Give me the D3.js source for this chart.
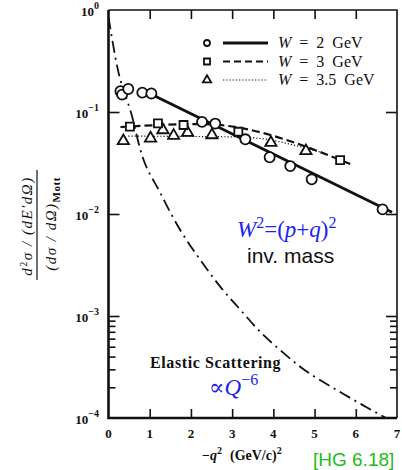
<!DOCTYPE html>
<html>
<head>
<meta charset="utf-8">
<script src="https://cdn.jsdelivr.net/npm/d3@7"></script>
<style>
body { margin: 0; background: #fff; }
svg { display: block; }
.serif { font-family: "Liberation Serif", "DejaVu Serif", serif; }
</style>
</head>
<body>
<svg width="402" height="470"></svg>
<script>
// W = 2 GeV data points [ -q^2, ratio ]
var w2Points = [[0.29, 0.16], [0.33, 0.148], [0.48, 0.168], [0.82, 0.155], [1.04, 0.152],
                [2.27, 0.080], [2.59, 0.077], [3.32, 0.054], [3.91, 0.036], [4.41, 0.0295],
                [4.93, 0.0219], [6.65, 0.0111]];
var w2Line = [[1.0, 0.152], [6.88, 0.0104]];

// W = 3 GeV
var w3Points = [[0.52, 0.0718], [1.2, 0.0775], [1.82, 0.0746], [3.15, 0.064], [5.62, 0.0338]];
var w3Line = [[0.29, 0.0713], [2.23, 0.0762], [5.93, 0.0302]];

// W = 3.5 GeV
var w35Points = [[0.36, 0.052], [1.02, 0.0552], [1.32, 0.0666], [1.58, 0.0586], [1.92, 0.0627],
                 [2.51, 0.0595], [3.94, 0.05], [4.79, 0.0415]];
var w35Line = [[0.48, 0.058], [3.2, 0.0569], [5.13, 0.0405]];

// elastic scattering curve
var elastic = [[0.0, 0.85], [0.21, 0.28], [0.574, 0.09], [0.775, 0.0424], [1.26, 0.016],
               [1.74, 0.00697], [2.23, 0.00354], [2.71, 0.00194], [3.2, 0.00115],
               [3.68, 0.0007], [4.16, 0.000465], [4.65, 0.000318], [5.62, 0.00018], [6.9, 0.000092]];

var xTicks = [0, 1, 2, 3, 4, 5, 6, 7];
var yMajor = [1, 0.1, 0.01, 0.001, 0.0001];
var yMinor = [0.0002, 0.0003, 0.0004, 0.0005, 0.0006, 0.0007, 0.0008, 0.0009];
var yExp = ["0", "\u22121", "\u22122", "\u22123", "\u22124"];

var legendItems = [{"w": "2", "dash": null, "width": 3},
                   {"w": "3", "dash": "7,4", "width": 2.2},
                   {"w": "3.5", "dash": "1.2,2", "width": 1.2}];

var svg = d3.select("svg");

var x = d3.scaleLinear().domain([0, 7]).range([108.5, 397]);
var y = d3.scaleLog().domain([1e-4, 1]).range([418, 10]);

var line = d3.line().x(function (d) { return x(d[0]); }).y(function (d) { return y(d[1]); });

svg.append("clipPath").attr("id", "plot")
.append("rect").attr("x", x(0)).attr("y", y(1)).attr("width", x(7) - x(0)).attr("height", y(1e-4) - y(1));

var plot = svg.append("g").attr("clip-path", "url(#plot)");

// elastic curve
plot.append("path")
.attr("d", line.curve(d3.curveMonotoneX)(elastic))
.attr("fill", "none").attr("stroke", "#111").attr("stroke-width", 1.8)
.attr("stroke-dasharray", "12,5,2,5");
line.curve(d3.curveLinear);

plot.append("path").attr("d", line(w2Line))
.attr("fill", "none").attr("stroke", "#111").attr("stroke-width", 2.8);
plot.append("path").attr("d", line.curve(d3.curveMonotoneX)(w3Line))
.attr("fill", "none").attr("stroke", "#111").attr("stroke-width", 2.2).attr("stroke-dasharray", "8,4");
plot.append("path").attr("d", line(w35Line))
.attr("fill", "none").attr("stroke", "#111").attr("stroke-width", 1.2).attr("stroke-dasharray", "1.2,2");
line.curve(d3.curveLinear);

var sym = {
  circle: d3.symbol().type(d3.symbolCircle).size(80),
  square: d3.symbol().type(d3.symbolSquare).size(64),
  tri: d3.symbol().type(d3.symbolTriangle).size(55)
};

function markers(data, s) {
  plot.selectAll(null).data(data).enter().append("path")
  .attr("d", s)
  .attr("transform", function (d) { return "translate(" + x(d[0]) + "," + y(d[1]) + ")"; })
  .attr("fill", "#fff").attr("stroke", "#111").attr("stroke-width", 1.8);
}
markers(w35Points, sym.tri);
markers(w3Points, sym.square);
markers(w2Points, sym.circle);

// frame
svg.append("path")
.attr("d", "M" + x(0) + "," + y(1) + "H" + x(7) + "V" + y(1e-4))
.attr("fill", "none").attr("stroke", "#111").attr("stroke-width", 1.6);
svg.append("path")
.attr("d", "M" + x(0) + "," + y(1) + "V" + y(1e-4) + "H" + x(7))
.attr("fill", "none").attr("stroke", "#111").attr("stroke-width", 2.6);

function tickAxis(axis, tr) {
  var g = svg.append("g").attr("transform", tr).call(axis);
  g.select(".domain").remove();
  g.selectAll("line").attr("stroke", "#111").attr("stroke-width", 1.6);
  return g;
}

tickAxis(d3.axisBottom(x).tickValues(xTicks.slice(1, 7)).tickSize(-9).tickFormat(""), "translate(0," + y(1e-4) + ")");
tickAxis(d3.axisTop(x).tickValues(xTicks.slice(1, 7)).tickSize(-9).tickFormat(""), "translate(0," + y(1) + ")");
tickAxis(d3.axisLeft(y).tickValues(yMajor.slice(1, 4)).tickSize(-11).tickFormat(""), "translate(" + x(0) + ",0)");
tickAxis(d3.axisLeft(y).tickValues(yMinor).tickSize(-7).tickFormat(""), "translate(" + x(0) + ",0)");
tickAxis(d3.axisRight(y).tickValues(yMajor.slice(1, 4)).tickSize(-11).tickFormat(""), "translate(" + x(7) + ",0)");
tickAxis(d3.axisRight(y).tickValues(yMinor).tickSize(-7).tickFormat(""), "translate(" + x(7) + ",0)");

// x tick labels
svg.selectAll(null).data(xTicks).enter().append("text")
.attr("class", "serif")
.attr("x", function (d) { return x(d); })
.attr("y", 438)
.attr("text-anchor", "middle")
.attr("font-size", 13).attr("font-weight", "bold").attr("fill", "#111")
.text(function (d) { return d; });

// y tick labels
var yl = svg.selectAll(null).data(yMajor).enter().append("text")
.attr("class", "serif")
.attr("x", 99)
.attr("y", function (d) { return y(d) + 6; })
.attr("text-anchor", "end")
.attr("font-size", 13).attr("font-weight", "bold").attr("fill", "#111");
yl.append("tspan").text("10");
yl.append("tspan").attr("dy", -7).attr("font-size", 10).text(function (d, i) { return yExp[i]; });

// y axis title
var yt = svg.append("g").attr("transform", "translate(0,226) rotate(-90)").attr("class", "serif").attr("fill", "#111");
var num = yt.append("text").attr("x", 0).attr("y", 32).attr("text-anchor", "middle")
.attr("font-size", 15).attr("font-style", "italic").attr("letter-spacing", 1.5);
num.append("tspan").text("d");
num.append("tspan").attr("dy", -5).attr("font-size", 10).attr("font-style", "normal").text("2");
num.append("tspan").attr("dy", 5).text("\u03c3 / (dE\u2032d\u03a9)");
yt.append("line").attr("x1", -54).attr("x2", 56).attr("y1", 37).attr("y2", 37)
.attr("stroke", "#111").attr("stroke-width", 1.2);
var den = yt.append("text").attr("x", 2).attr("y", 56).attr("text-anchor", "middle")
.attr("font-size", 15).attr("font-style", "italic").attr("letter-spacing", 1.5);
den.append("tspan").text("(d\u03c3 / d\u03a9)");
den.append("tspan").attr("dy", 4).attr("font-size", 11).attr("font-style", "normal")
.attr("font-weight", "bold").attr("letter-spacing", 0.5).text("Mott");

// x axis title
var xt = svg.append("text").attr("class", "serif").attr("x", 202).attr("y", 460)
.attr("font-size", 14).attr("font-weight", "bold").attr("fill", "#111");
xt.append("tspan").text("\u2212");
xt.append("tspan").attr("font-style", "italic").text("q");
xt.append("tspan").attr("dy", -6).attr("font-size", 10).text("2");
xt.append("tspan").attr("dy", 6).attr("dx", 8).text("(GeV/c)");
xt.append("tspan").attr("dy", -6).attr("font-size", 10).text("2");

// legend
var lg = svg.selectAll(null).data(legendItems).enter().append("g")
.attr("transform", function (d, i) { return "translate(0," + (43 + i * 18.5) + ")"; });
lg.append("path")
.attr("d", function (d, i) { return [d3.symbol().type(d3.symbolCircle).size(28), d3.symbol().type(d3.symbolSquare).size(36), d3.symbol().type(d3.symbolTriangle).size(30)][i](); })
.attr("transform", "translate(207,0)")
.attr("fill", "#fff").attr("stroke", "#111").attr("stroke-width", 1.8);
lg.append("line").attr("x1", 223).attr("x2", 268).attr("y1", 0).attr("y2", 0)
.attr("stroke", "#111")
.attr("stroke-width", function (d) { return d.width; })
.attr("stroke-dasharray", function (d) { return d.dash; });
var lt = lg.append("text").attr("class", "serif").attr("x", 278).attr("y", 5)
.attr("font-size", 16).attr("fill", "#111");
lt.append("tspan").attr("font-style", "italic").text("W");
lt.append("tspan").text(function (d) { return "  =  " + d.w + "  GeV"; }).attr("xml:space", "preserve");

// annotations
var wq = svg.append("text").attr("class", "serif").attr("x", 237).attr("y", 237)
.attr("font-size", 23).attr("fill", "#2222ee");
wq.append("tspan").attr("font-style", "italic").text("W");
wq.append("tspan").attr("dy", -9).attr("font-size", 16).text("2");
wq.append("tspan").attr("dy", 9).text("=(");
wq.append("tspan").attr("font-style", "italic").text("p");
wq.append("tspan").text("+");
wq.append("tspan").attr("font-style", "italic").text("q");
wq.append("tspan").text(")");
wq.append("tspan").attr("dy", -9).attr("font-size", 16).text("2");

svg.append("text").attr("x", 247).attr("y", 263)
.attr("font-family", "Liberation Sans, Arial, sans-serif").attr("font-size", 21).attr("fill", "#111")
.text("inv. mass");

svg.append("text").attr("class", "serif").attr("x", 150).attr("y", 368)
.attr("font-size", 16).attr("font-weight", "bold").attr("letter-spacing", 0.6).attr("fill", "#111")
.text("Elastic Scattering");

var pq = svg.append("text").attr("class", "serif").attr("x", 209).attr("y", 395)
.attr("font-size", 23).attr("fill", "#2222ee");
pq.append("tspan").text("\u221d");
pq.append("tspan").attr("font-style", "italic").text("Q");
pq.append("tspan").attr("dy", -10).attr("font-size", 16).text("\u22126");

svg.append("text").attr("x", 313).attr("y", 466)
.attr("font-family", "Liberation Sans, Arial, sans-serif").attr("font-size", 19).attr("fill", "#22bb22")
.text("[HG 6.18]");
</script>
</body>
</html>
